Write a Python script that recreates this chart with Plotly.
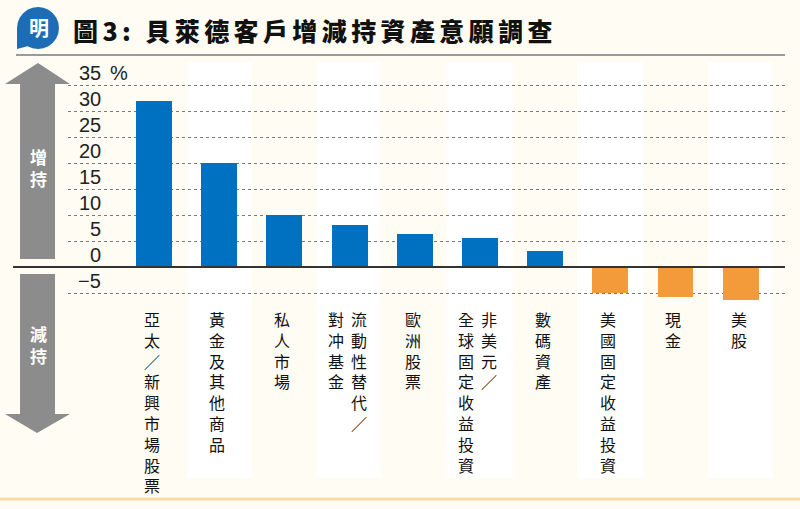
import plotly.graph_objects as go

# 資料
categorias = ["亞太／新興市場股票", "黃金及其他商品", "私人市場", "流動性替代／\n對冲基金",
              "歐洲股票", "非美元／\n全球固定收益投資", "數碼資產", "美國固定收益投資", "現金", "美股"]
valores = [32, 20, 10, 8, 6.3, 5.5, 3, -5, -5.8, -6.3]
ticks = [-5, 0, 5, 10, 15, 20, 25, 30, 35]
tick_textos = ["−5", "0", "5", "10", "15", "20", "25", "30", "35"]
titulo = "圖3: 貝萊德客戶增減持資產意願調查"

AZUL = "#0070c0"
NARANJA = "#f39b3b"
FONDO = "#fffcf4"
GRIS = "#8c8c8c"

W, H = 800, 509
ML, MR, MT, MB = 68, 15, 70, 204


# convertir pixeles a coordenadas "paper"
def px(x):
    return (x - ML) / (W - ML - MR)


def py(y):
    return (H - MB - y) / (H - MT - MB)


def ruta(puntos):
    return "M " + " L ".join(f"{px(a):.4f},{py(b):.4f}" for a, b in puntos) + " Z"


x = list(range(len(categorias)))
colores = [AZUL if v >= 0 else NARANJA for v in valores]

fig = go.Figure(go.Bar(x=x, y=valores, marker=dict(color=colores, line=dict(width=0)),
                       width=0.55, hoverinfo="y"))

shapes = []
# franjas blancas alternadas
for i in x:
    if i % 2 == 1:
        shapes.append(dict(type="rect", xref="x", yref="paper", x0=i - 0.5, x1=i + 0.5,
                           y0=py(478), y1=py(62), fillcolor="white", line=dict(width=0),
                           layer="below"))
# flechas
shapes.append(dict(type="path", xref="paper", yref="paper", fillcolor=GRIS, line=dict(width=0),
                   path=ruta([(38, 63), (5, 84), (20, 84), (20, 259), (55, 259), (55, 84), (70, 84)])))
shapes.append(dict(type="path", xref="paper", yref="paper", fillcolor=GRIS, line=dict(width=0),
                   path=ruta([(20, 274), (55, 274), (55, 414), (70, 414), (37, 433), (5, 414), (20, 414)])))
# linea cero
shapes.append(dict(type="line", xref="paper", yref="y", x0=px(13), x1=1, y0=0, y1=0,
                   line=dict(color="#333333", width=2)))
# linea bajo el titulo
shapes.append(dict(type="line", xref="paper", yref="paper", x0=px(16), x1=1, y0=py(55), y1=py(55),
                   line=dict(color="#9a9a9a", width=2)))
# linea inferior
shapes.append(dict(type="line", xref="paper", yref="paper", x0=px(0), x1=px(800), y0=py(499), y1=py(499),
                   line=dict(color="#f8dba4", width=3)))
# logo
shapes.append(dict(type="path", xref="paper", yref="paper", fillcolor="#1c6db5", line=dict(width=0),
                   path="M " + f"{px(17):.4f},{py(49):.4f}" + " L " + " L ".join(
                       f"{px(38 + 21 * c):.4f},{py(28 - 21 * s):.4f}" for c, s in [
                           (-1, 0), (-0.966, 0.259), (-0.866, 0.5), (-0.707, 0.707), (-0.5, 0.866),
                           (-0.259, 0.966), (0, 1), (0.259, 0.966), (0.5, 0.866), (0.707, 0.707),
                           (0.866, 0.5), (0.966, 0.259), (1, 0), (0.966, -0.259), (0.866, -0.5),
                           (0.707, -0.707), (0.5, -0.866), (0.259, -0.966), (0, -1), (-0.259, -0.966),
                           (-0.5, -0.866)]) + " Z"))

annotations = []
# etiquetas del eje y
for v, t in zip(ticks, tick_textos):
    annotations.append(dict(xref="paper", yref="y", x=px(103), y=v, text=t, showarrow=False,
                            xanchor="right", yanchor="bottom", yshift=-1,
                            font=dict(family="Liberation Sans, Arial", size=20, color="#222")))
annotations.append(dict(xref="paper", yref="y", x=px(108), y=35, text="%", showarrow=False,
                        xanchor="left", yanchor="bottom", yshift=-1,
                        font=dict(family="Liberation Sans, Arial", size=20, color="#222")))
# etiquetas de categorias (texto vertical)
for i, c in enumerate(categorias):
    columnas = c.split("\n")
    n = len(columnas)
    for j, col in enumerate(columnas):
        desplaz = 0 if n == 1 else (11 if j == 0 else -12)
        annotations.append(dict(xref="x", yref="paper", x=i, y=py(305), text="<br>".join(col),
                                showarrow=False, xanchor="center", yanchor="top", xshift=desplaz - 2,
                                align="center",
                                font=dict(family="Noto Sans CJK TC", size=16, color="#111")))
# textos de las flechas
annotations.append(dict(xref="paper", yref="paper", x=px(38), y=py(167), text="<b>增<br>持</b>",
                        showarrow=False, xanchor="center", yanchor="middle",
                        font=dict(family="Noto Sans CJK TC", size=17, color="white")))
annotations.append(dict(xref="paper", yref="paper", x=px(38), y=py(344), text="<b>減<br>持</b>",
                        showarrow=False, xanchor="center", yanchor="middle",
                        font=dict(family="Noto Sans CJK TC", size=17, color="white")))
# titulo
annotations.append(dict(xref="paper", yref="paper", x=px(71), y=py(30), text=titulo,
                        showarrow=False, xanchor="left", yanchor="middle",
                        font=dict(family="Noto Sans CJK TC", size=25, color="#111", weight=900)))
annotations.append(dict(xref="paper", yref="paper", x=px(39), y=py(28), text="<b>明</b>",
                        showarrow=False, xanchor="center", yanchor="middle",
                        font=dict(family="Noto Sans CJK TC", size=20, color="white")))

fig.update_layout(
    width=W, height=H,
    margin=dict(l=ML, r=MR, t=MT, b=MB),
    paper_bgcolor=FONDO, plot_bgcolor=FONDO,
    showlegend=False,
    bargap=0,
    xaxis=dict(range=[-1.32, 9.68], showticklabels=False, showgrid=False, zeroline=False, ticks=""),
    yaxis=dict(range=[-7.3, 37.9], tickvals=ticks, showticklabels=False, showgrid=True,
               gridcolor="#7a7a7a", griddash="dot", gridwidth=1, zeroline=False, ticks=""),
    shapes=shapes,
    annotations=annotations,
)

# quitar el margen del body y espaciar las letras del titulo (manteniendo el borde izquierdo)
js = """
document.body.style.margin = '0';
document.querySelectorAll('.annotation-text').forEach(function (t) {
    if (t.textContent.indexOf('圖3') === 0) {
        var x0 = t.getBBox().x;
        t.style.letterSpacing = '4.4px';
        var x1 = t.getBBox().x;
        t.setAttribute('transform', 'translate(' + (x0 - x1) + ',0)');
    }
});
"""
fig.write_html("out.html", config={"displayModeBar": False}, post_script=js)
